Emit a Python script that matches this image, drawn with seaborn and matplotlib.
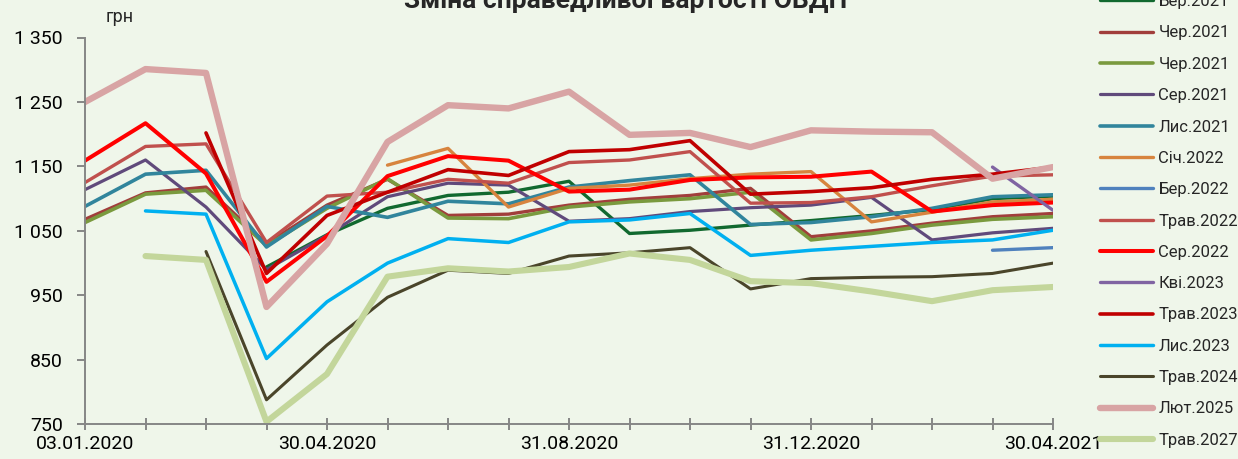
import matplotlib
matplotlib.use("Agg")  # headless
import matplotlib.pyplot as plt
import numpy as np
import seaborn as sns

nan = np.nan

# ---------------------------------------------------------------------------
# Data (UAH)
# ---------------------------------------------------------------------------
DATES = [
    "03.01.2020", "31.01.2020", "28.02.2020", "31.03.2020", "30.04.2020",
    "29.05.2020", "30.06.2020", "31.07.2020", "31.08.2020", "30.09.2020",
    "30.10.2020", "30.11.2020", "31.12.2020", "29.01.2021", "26.02.2021",
    "31.03.2021", "30.04.2021",
]
SHOWN_DATES = ["03.01.2020", "30.04.2020", "31.08.2020", "31.12.2020", "30.04.2021"]

ber_2021 = [nan, nan, nan, 994, 1044, 1085, 1105, 1110, 1127, 1046, 1051, 1059, 1066, 1074, 1083, 1100, 1104]
cher_2021_a = [1068, 1109, 1118, 1030, 1090, 1130, 1074, 1076, 1090, 1099, 1105, 1116, 1041, 1050, 1062, 1072, 1077]
cher_2021_b = [1063, 1107, 1113, 1027, 1085, 1131, 1070, 1069, 1087, 1095, 1100, 1110, 1036, 1046, 1059, 1068, 1072]
ser_2021 = [1114, 1160, 1087, 990, 1043, 1103, 1124, 1121, 1065, 1069, 1080, 1086, 1090, 1102, 1036, 1047, 1054]
lys_2021 = [1088, 1138, 1144, 1025, 1088, 1071, 1096, 1092, 1118, 1128, 1137, 1060, 1063, 1072, 1085, 1103, 1106]
sich_2022 = [nan, nan, nan, nan, nan, 1152, 1178, 1087, 1116, 1121, 1131, 1138, 1142, 1064, 1079, 1095, 1099]
ber_2022 = [nan, nan, nan, nan, nan, nan, nan, nan, nan, nan, nan, nan, nan, nan, nan, 1020, 1024]
trav_2022 = [1125, 1181, 1185, 1032, 1104, 1110, 1130, 1124, 1156, 1160, 1173, 1093, 1094, 1103, 1120, 1135, 1137]
ser_2022 = [1159, 1217, 1139, 971, 1042, 1135, 1166, 1159, 1111, 1114, 1129, 1133, 1134, 1142, 1080, 1090, 1094]
kvi_2023 = [nan, nan, nan, nan, nan, nan, nan, nan, nan, nan, nan, nan, nan, nan, nan, 1149, 1082]
trav_2023 = [nan, nan, 1202, 984, 1074, 1110, 1145, 1136, 1173, 1176, 1190, 1107, 1111, 1117, 1130, 1138, 1149]
lys_2023 = [nan, 1081, 1076, 852, 940, 1000, 1038, 1032, 1064, 1067, 1077, 1012, 1020, 1026, 1032, 1036, 1051]
trav_2024 = [nan, nan, 1018, 788, 873, 947, 989, 984, 1011, 1016, 1024, 960, 976, 978, 979, 984, 1000]
lyut_2025 = [1250, 1301, 1295, 932, 1030, 1188, 1245, 1240, 1266, 1199, 1202, 1180, 1206, 1204, 1203, 1131, 1149]
trav_2027 = [nan, 1011, 1005, 754, 828, 979, 992, 987, 994, 1015, 1005, 972, 969, 956, 941, 958, 963]

SERIES = [
    ("Бер.2021", ber_2021),
    ("Чер.2021", cher_2021_a),
    ("Чер.2021", cher_2021_b),
    ("Сер.2021", ser_2021),
    ("Лис.2021", lys_2021),
    ("Січ.2022", sich_2022),
    ("Бер.2022", ber_2022),
    ("Трав.2022", trav_2022),
    ("Сер.2022", ser_2022),
    ("Кві.2023", kvi_2023),
    ("Трав.2023", trav_2023),
    ("Лис.2023", lys_2023),
    ("Трав.2024", trav_2024),
    ("Лют.2025", lyut_2025),
    ("Трав.2027", trav_2027),
]

Y_TICKS = [750, 850, 950, 1050, 1150, 1250, 1350]
Y_TICK_LABELS = ["750", "850", "950", "1 050", "1 150", "1 250", "1 350"]

# ---------------------------------------------------------------------------
# Styles
# ---------------------------------------------------------------------------
COLORS = [
    "#11692F", "#A13E3B", "#7A9A3E", "#604A7B", "#31859C", "#D7843E",
    "#4F81BD", "#C0504D", "#FF0000", "#8064A2", "#C00000", "#00B0F0",
    "#4A452A", "#D8A4A4", "#C3D69B",
]
WIDTHS = [2.4, 2.4, 2.6, 2.3, 2.6, 2.4, 2.4, 2.4, 2.9, 2.4, 2.6, 2.5, 2.2, 4.6, 4.4]
BG = "#EFF6EA"
GREY = "#868686"

sns.set_theme(style="white")
plt.rcParams["font.family"] = ["Roboto", "DejaVu Sans"]

fig = plt.figure(figsize=(12.38, 4.59), dpi=100, facecolor=BG)
ax = fig.add_axes([85 / 1238, 1 - 424.3 / 459, (1053 - 85) / 1238, (424.3 - 37.5) / 459])
ax.set_facecolor(BG)

x = np.arange(len(DATES))
handles = []
for (name, vals), color, lw in zip(SERIES, COLORS, WIDTHS):
    sns.lineplot(x=x, y=np.array(vals, dtype=float), ax=ax, color=color,
                 linewidth=lw, legend=False, solid_capstyle="round")
    line = ax.lines[-1]
    line.set_label(name)
    handles.append(line)

ax.set_xlim(0, len(DATES) - 1)
ax.set_ylim(Y_TICKS[0], Y_TICKS[-1])
ax.set_yticks(Y_TICKS)
ax.set_yticklabels(Y_TICK_LABELS)
ax.set_xticks(x)
ax.set_xticklabels([d if d in SHOWN_DATES else "" for d in DATES])
ax.set_xlabel("")
ax.set_ylabel("")

for side in ("top", "right"):
    ax.spines[side].set_visible(False)
for side in ("left", "bottom"):
    ax.spines[side].set_color(GREY)
    ax.spines[side].set_linewidth(1.4)
ax.tick_params(axis="y", direction="out", length=6, width=1.4, color=GREY,
               labelsize=14, pad=10, labelcolor="black", left=True)
ax.tick_params(axis="x", direction="inout", length=8, width=1.4, color=GREY,
               labelsize=14, pad=4, labelcolor="black", bottom=True)
ax.grid(False)

fig.text(120 / 1238, 1 - 17 / 459, "грн", fontsize=13, ha="center", va="center")
# the title sits partly above the top edge, as in the source image
fig.text(626 / 1238, 1 - 8 / 459, "Зміна справедливої вартості ОВДП",
         fontsize=19, fontweight="bold", ha="center", va="baseline")

leg = fig.legend(handles=handles, loc="center left",
                 bbox_to_anchor=(1100 / 1238, 1 - 221 / 459),
                 frameon=False, fontsize=12, handlelength=3.2,
                 handletextpad=0.3, labelspacing=0.98, borderpad=0,
                 borderaxespad=0)
for h in leg.get_lines():
    h.set_solid_capstyle("round")

fig.savefig("out.png", dpi=100, facecolor=BG)
plt.close(fig)
